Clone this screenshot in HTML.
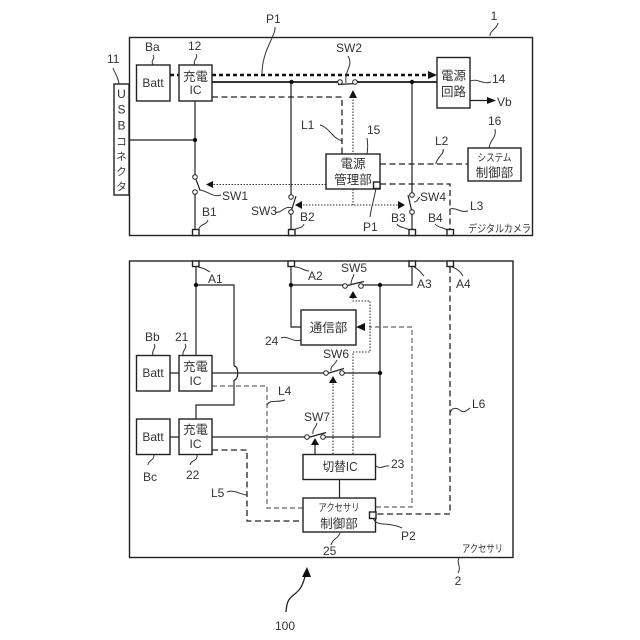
<!DOCTYPE html>
<html><head><meta charset="utf-8"><style>
html,body{margin:0;padding:0;background:#fff}
svg{display:block}
text{font-family:"Liberation Sans","Noto Sans CJK JP",sans-serif;font-size:12px;fill:#333}
.j{font-size:12.5px}
.s{font-size:10.5px}
.m{text-anchor:middle}
.b{fill:#fff;stroke:#222;stroke-width:1.4}
.l{fill:none;stroke:#222;stroke-width:1.2}
.h{fill:none;stroke:#333;stroke-width:1}
.d{fill:none;stroke:#222;stroke-width:1.3;stroke-dasharray:6 3.5}
.g{fill:none;stroke:#666;stroke-width:1.2;stroke-dasharray:5 3}
.o{fill:none;stroke:#333;stroke-width:1.1;stroke-dasharray:1.5 1.5}
.c{fill:#fff;stroke:#222;stroke-width:1}
.a{fill:#111}
</style></head><body>
<svg width="640" height="640" viewBox="0 0 640 640" xmlns="http://www.w3.org/2000/svg">
<rect width="640" height="640" fill="#fff"/>

<!-- Device 1 -->
<rect x="129.500" y="37.500" width="403" height="198" fill="none" stroke="#222" stroke-width="1.4"/>
<path class="h" d="M490 36 C490 30 497 29 498 23"/>
<text x="494" y="20" class="m">1</text>

<!-- wires -->
<path d="M212 82H340M355 82H437" stroke="#333" stroke-width="2" fill="none"/>
<path class="l" d="M129 140H195M195 101V177M195 192V230M291 82V197M291 212V230M412 82V195M412 212V230"/>
<path d="M170 75H179M212 75H428" stroke="#111" stroke-width="2.400" stroke-dasharray="4 3" fill="none"/>
<path class="a" d="M437 75L428 71V79Z"/>
<path class="d" d="M212 97H342V154"/>
<path class="d" d="M380 164H468"/>
<path class="d" d="M380 184H450V230"/>
<path class="o" d="M326 184.500H212M353 189V205M353 155V98M300 205H398"/>
<path class="a" d="M206 184.500L213 181V188ZM295 205L302 201V209ZM405 205L398 201V209ZM353 90L349 98H357Z"/>
<path class="l" d="M470 100.500H488"/>
<path class="a" d="M496 100.500L487 97V104Z"/>
<circle cx="195" cy="140" r="2.200" class="a"/>
<circle cx="291.500" cy="82" r="2.200" class="a"/>
<circle cx="412" cy="82" r="2.200" class="a"/>

<!-- switches -->
<path class="l" d="M338 84.500L356 83.500M195 177L200 190M291 212L296 196M408 195L412 212"/>
<circle cx="340" cy="82" r="2.300" class="c"/><circle cx="355" cy="82" r="2.300" class="c"/>
<circle cx="195" cy="177" r="2.300" class="c"/><circle cx="195" cy="192" r="2.300" class="c"/>
<circle cx="291" cy="197" r="2.300" class="c"/><circle cx="291" cy="212" r="2.300" class="c"/>
<circle cx="412" cy="195" r="2.300" class="c"/><circle cx="412" cy="212" r="2.300" class="c"/>

<!-- Boxes -->
<rect x="114" y="84" width="15" height="111" class="b"/>
<rect x="136.500" y="65" width="33.500" height="36" class="b"/>
<rect x="179" y="65" width="33" height="36" class="b"/>
<rect x="437" y="57.500" width="33" height="50.500" class="b"/>
<rect x="326" y="154" width="54" height="35" class="b"/>
<rect x="373.500" y="182" width="6.500" height="6.500" class="b"/>
<rect x="468" y="148" width="53" height="33" class="b"/>
<rect x="192.500" y="229.500" width="6.500" height="6" class="b"/>
<rect x="288.500" y="229.500" width="6.500" height="6" class="b"/>
<rect x="409" y="229.500" width="6.500" height="6" class="b"/>
<rect x="447" y="229.500" width="6.500" height="6" class="b"/>

<text x="153" y="87" class="m">Batt</text>
<text x="195.500" y="81" class="j m">充電</text>
<text x="195.500" y="94" class="m">IC</text>
<text x="453.500" y="80" class="j m">電源</text>
<text x="453.500" y="96" class="j m">回路</text>
<text x="353" y="168" class="j m">電源</text>
<text x="353" y="184" class="j m">管理部</text>
<text x="494.500" y="161" class="s m" textLength="34" lengthAdjust="spacingAndGlyphs">システム</text>
<text x="494.500" y="177" class="j m">制御部</text>
<text x="121.500" y="98" class="m">U</text>
<text x="121.500" y="113.500" class="m">S</text>
<text x="121.500" y="129.500" class="m">B</text>
<text x="121.500" y="145" class="s m">コ</text>
<text x="121.500" y="160" class="s m">ネ</text>
<text x="121.500" y="175" class="s m">ク</text>
<text x="121.500" y="190" class="s m">タ</text>

<!-- labels 1 -->
<text x="145" y="51">Ba</text><path class="h" d="M153 55C156 59 150 60 153 65"/>
<text x="188" y="50">12</text><path class="h" d="M196 54C199 58 192 60 195 65"/>
<text x="107" y="63">11</text><path class="h" d="M113 68C115 74 118 76 119 84"/>
<text x="266" y="23">P1</text><path class="h" d="M275 27C276 36 262 50 262 74"/>
<text x="336" y="52">SW2</text><path class="h" d="M348 56C354 66 344 70 346 83"/>
<text x="492" y="83">14</text><path class="h" d="M470 81C479 78 482 85 491 82"/>
<text x="497" y="106">Vb</text>
<text x="367" y="134">15</text><path class="h" d="M367 138C368 144 368 148 367 154"/>
<text x="488" y="125">16</text><path class="h" d="M495 129C497 137 490 140 489 148"/>
<text x="435" y="145">L2</text><path class="h" d="M443 149C445 154 436 158 436 164"/>
<text x="301" y="129">L1</text><path class="h" d="M320 125C330 128 332 138 342 141"/>
<text x="363" y="231">P1</text><path class="h" d="M376 188C374 200 371 208 370 217"/>
<text x="222" y="200">SW1</text><path class="h" d="M199 190C207 190 212 198 221 195"/>
<text x="251" y="215">SW3</text><path class="h" d="M275 212C282 214 284 205 292 208"/>
<text x="420" y="201">SW4</text><path class="h" d="M414 202C418 202 418 198 420 197"/>
<text x="202" y="216">B1</text><path class="h" d="M198 230C202 222 206 226 208 220"/>
<text x="300" y="221">B2</text><path class="h" d="M294 230C298 227 302 229 304 224"/>
<text x="391" y="222">B3</text><path class="h" d="M397 224C399 228 405 227 409 230"/>
<text x="428" y="222">B4</text><path class="h" d="M435 224C438 228 443 227 447 230"/>
<text x="470" y="210">L3</text><path class="h" d="M450 209C456 207 460 213 468 211"/>
<text x="468" y="232" class="s" textLength="63" lengthAdjust="spacingAndGlyphs">デジタルカメラ</text>

<!-- Accessory 2 -->
<rect x="129.500" y="261" width="383.500" height="296.500" fill="none" stroke="#222" stroke-width="1.4"/>

<path class="l" d="M196 266V355M196 285H234V366M234 380V405H196V420"/>
<path class="l" d="M234 366C239 366 239 380 234 380"/>
<path class="l" d="M212 373H326M341 373H380M212 437H307M323 437H380V285M291 266V327H301M291 285H345M361 285H412V266"/>
<path class="l" d="M170 373H179M170 437H179M339.500 479V498"/>
<circle cx="196" cy="285" r="2.200" class="a"/>
<circle cx="291" cy="285" r="2.200" class="a"/>
<circle cx="380" cy="285" r="2.200" class="a"/>
<circle cx="380" cy="373" r="2.200" class="a"/>

<path class="d" d="M450 267V514H376"/>
<path class="d" d="M212 450H247V521H303"/>
<path class="g" d="M212 386H267V508H303"/>
<path class="g" d="M376 507H412V327H369"/>
<path class="a" d="M356 327L365 323V331Z"/>
<path class="o" d="M333 454V382M353 454V352H370V301H353V296"/>
<path class="l" d="M315 454V444"/>
<path class="a" d="M353 291L349 298H357ZM333 376L329 383H337ZM315 438L311 445H319Z"/>

<path class="l" d="M343 286.500L364 281.500M324 374.500L344 368.500M305 438.500L326 432.500"/>
<circle cx="345" cy="286" r="2.300" class="c"/><circle cx="361" cy="286" r="2.300" class="c"/>
<circle cx="326" cy="373" r="2.300" class="c"/><circle cx="342" cy="373" r="2.300" class="c"/>
<circle cx="307" cy="437" r="2.300" class="c"/><circle cx="323" cy="437" r="2.300" class="c"/>

<rect x="192.500" y="261" width="6.500" height="5.500" class="b"/>
<rect x="288" y="261" width="6.500" height="5.500" class="b"/>
<rect x="409" y="261" width="6.500" height="5.500" class="b"/>
<rect x="447" y="261" width="6.500" height="5.500" class="b"/>
<rect x="301" y="310" width="55" height="35" class="b"/>
<rect x="136.500" y="355.500" width="33.500" height="35.500" class="b"/>
<rect x="179" y="355.500" width="33" height="35.500" class="b"/>
<rect x="136.500" y="419" width="33.500" height="35.500" class="b"/>
<rect x="179" y="419" width="33" height="35.500" class="b"/>
<rect x="303" y="454.500" width="72.500" height="25" class="b"/>
<rect x="303" y="498" width="72.500" height="34" class="b"/>
<rect x="369.500" y="512" width="6.500" height="6.500" class="b"/>

<text x="153" y="377" class="m">Batt</text>
<text x="153" y="441" class="m">Batt</text>
<text x="195.500" y="371" class="j m">充電</text>
<text x="195.500" y="385" class="m">IC</text>
<text x="195.500" y="434" class="j m">充電</text>
<text x="195.500" y="448" class="m">IC</text>
<text x="328.500" y="332" class="j m">通信部</text>
<text x="340" y="471" class="j m" textLength="35" lengthAdjust="spacingAndGlyphs">切替IC</text>
<text x="339" y="511" class="s m" textLength="41" lengthAdjust="spacingAndGlyphs">アクセサリ</text>
<text x="339" y="528" class="j m">制御部</text>

<text x="208" y="283">A1</text><path class="h" d="M198 267C203 268 205 269 210 272"/>
<text x="308" y="280">A2</text><path class="h" d="M295 267C301 267 304 271 309 271"/>
<text x="417" y="288">A3</text><path class="h" d="M414 267C420 270 421 273 424 276"/>
<text x="456" y="288">A4</text><path class="h" d="M452 267C458 269 461 272 463 276"/>
<text x="145" y="341">Bb</text><path class="h" d="M154 344C157 348 151 350 153 355"/>
<text x="175" y="341">21</text><path class="h" d="M185 344C188 348 182 350 183 355"/>
<text x="265" y="345">24</text><path class="h" d="M281 338C288 335 293 343 301 340"/>
<text x="323" y="358">SW6</text><path class="h" d="M337 360C335 365 330 366 331 371"/>
<text x="341" y="272">SW5</text><path class="h" d="M354 274C353 278 351 280 351 284"/>
<text x="304" y="421">SW7</text><path class="h" d="M317 423C316 428 312 429 313 434"/>
<text x="278" y="395">L4</text><path class="h" d="M267 405C270 399 277 403 285 400"/>
<text x="472" y="408">L6</text><path class="h" d="M450 414C451 406 458 408 461 411C464 413 468 410 470 408"/>
<text x="211" y="497">L5</text><path class="h" d="M227 492C234 489 241 495 247 495"/>
<text x="143" y="481">Bc</text><path class="h" d="M154 455C154 461 148 460 148 465"/>
<text x="186" y="479">22</text><path class="h" d="M197 455C198 461 191 460 190 465"/>
<text x="391" y="468">23</text><path class="h" d="M376 466C381 470 384 465 389 466"/>
<text x="401" y="540">P2</text><path class="h" d="M373 518C376 526 385 523 392 525C398 526 400 527 402 528"/>
<text x="323" y="555">25</text><path class="h" d="M340 533C338 539 333 538 331 545"/>
<text x="462" y="552" class="s" textLength="41" lengthAdjust="spacingAndGlyphs">アクセサリ</text>
<path class="h" d="M459 558C456 564 462 566 458 573"/>
<text x="458" y="585" class="m">2</text>

<path d="M286 612C287 596 292 598 299 590C304 584 304 578 306 574" fill="none" stroke="#222" stroke-width="1.300"/>
<path class="a" d="M307 567L302 577L311 577Z"/>
<text x="275" y="630">100</text>
</svg>
</body></html>
